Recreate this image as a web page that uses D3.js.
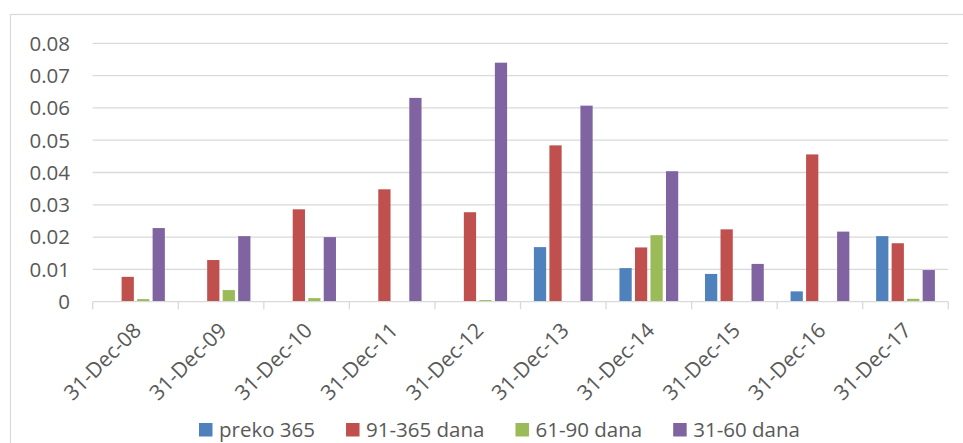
<!DOCTYPE html>
<html>
<head>
<meta charset="utf-8">
<script src="https://cdn.jsdelivr.net/npm/d3@7"></script>
<style>
  html, body { margin: 0; padding: 0; background: #fff; }
  svg { display: block; font-family: "Open Sans", sans-serif; }
</style>
</head>
<body>
<svg id="chart" width="963" height="443"></svg>
<script>
const dates = ["31-Dec-08", "31-Dec-09", "31-Dec-10", "31-Dec-11", "31-Dec-12",
  "31-Dec-13", "31-Dec-14", "31-Dec-15", "31-Dec-16", "31-Dec-17"];
const seriesNames = ["preko 365", "91-365 dana", "61-90 dana", "31-60 dana"];
const preko365 = [0, 0, 0, 0, 0, 0.0169, 0.0104, 0.0086, 0.0032, 0.0203];
const dana91_365 = [0.0077, 0.0129, 0.0286, 0.0348, 0.0277, 0.0484, 0.0168, 0.0224, 0.0456, 0.0181];
const dana61_90 = [0.0008, 0.0036, 0.0011, 0, 0.0005, 0, 0.0206, 0, 0, 0.0009];
const dana31_60 = [0.0228, 0.0203, 0.0200, 0.0631, 0.0740, 0.0607, 0.0404, 0.0117, 0.0217, 0.0098];
const yTicks = [0, 0.01, 0.02, 0.03, 0.04, 0.05, 0.06, 0.07, 0.08];
const colors = ["#4F81BD", "#C0504D", "#9BBB59", "#8064A2"];

const seriesValues = [preko365, dana91_365, dana61_90, dana31_60];

const svg = d3.select("#chart");
const plot = { left: 92.7, right: 948.3, top: 43.3, bottom: 301.7 };
const textColor = "#595959";
const gridColor = "#d9d9d9";

// chart frame (runs off the right and bottom edges)
svg.append("rect")
  .attr("x", 10.5).attr("y", 14.5)
  .attr("width", 980).attr("height", 460)
  .attr("fill", "none")
  .attr("stroke", gridColor)
  .attr("stroke-width", 1.2);

const x0 = d3.scaleBand().domain(dates).range([plot.left, plot.right]).padding(0);
const groupPad = 13.4;
const x1 = d3.scaleBand()
  .domain(seriesNames)
  .range([groupPad, x0.bandwidth() - groupPad])
  .paddingInner(0.21)
  .paddingOuter(0);
const y = d3.scaleLinear().domain([0, 0.08]).range([plot.bottom, plot.top]);

// gridlines
svg.append("g")
  .selectAll("line")
  .data(yTicks.filter((d) => d > 0))
  .join("line")
  .attr("x1", plot.left).attr("x2", plot.right)
  .attr("y1", (d) => y(d)).attr("y2", (d) => y(d))
  .attr("stroke", gridColor)
  .attr("stroke-width", 1.3);

// y labels
svg.append("g")
  .selectAll("text")
  .data(yTicks)
  .join("text")
  .attr("x", 70)
  .attr("y", (d) => y(d))
  .attr("dy", "0.36em")
  .attr("text-anchor", "end")
  .attr("fill", textColor)
  .style("font-size", "20.5px")
  .text((d) => (d === 0 ? "0" : d3.format(".2f")(d)));

// bars
const groups = svg.append("g")
  .selectAll("g")
  .data(dates)
  .join("g")
  .attr("transform", (d) => `translate(${x0(d)},0)`);

groups.selectAll("rect")
  .data((d, i) => seriesNames.map((s, k) => ({ s, k, v: seriesValues[k][i] })))
  .join("rect")
  .filter((d) => d.v > 0)
  .attr("x", (d) => x1(d.s))
  .attr("width", x1.bandwidth())
  .attr("y", (d) => y(d.v))
  .attr("height", (d) => y(0) - y(d.v))
  .attr("fill", (d) => colors[d.k]);

// x axis line and ticks
const xAxis = svg.append("g").attr("stroke", gridColor).attr("stroke-width", 1.3);
xAxis.append("line")
  .attr("x1", plot.left).attr("x2", plot.right)
  .attr("y1", plot.bottom).attr("y2", plot.bottom);
xAxis.selectAll("line.tick")
  .data(d3.range(dates.length + 1))
  .join("line")
  .attr("class", "tick")
  .attr("x1", (i) => plot.left + i * x0.step())
  .attr("x2", (i) => plot.left + i * x0.step())
  .attr("y1", plot.bottom).attr("y2", plot.bottom + 7.5);

// x labels, rotated
svg.append("g")
  .selectAll("text")
  .data(dates)
  .join("text")
  .attr("transform", (d) => `translate(${x0(d) + x0.bandwidth() / 2 + 7},${plot.bottom + 30}) rotate(-45)`)
  .attr("text-anchor", "end")
  .attr("fill", textColor)
  .style("font-size", "21px")
  .text((d) => d);

// legend
const legend = svg.append("g");
let lx = 199;
seriesNames.forEach((name, k) => {
  legend.append("rect")
    .attr("x", lx).attr("y", 423)
    .attr("width", 13.5).attr("height", 13.5)
    .attr("fill", colors[k]);
  const t = legend.append("text")
    .attr("x", lx + 20).attr("y", 437)
    .attr("fill", textColor)
    .style("font-size", "20.5px")
    .text(name);
  lx += 20 + t.node().getComputedTextLength() + 31;
});
</script>
</body>
</html>
